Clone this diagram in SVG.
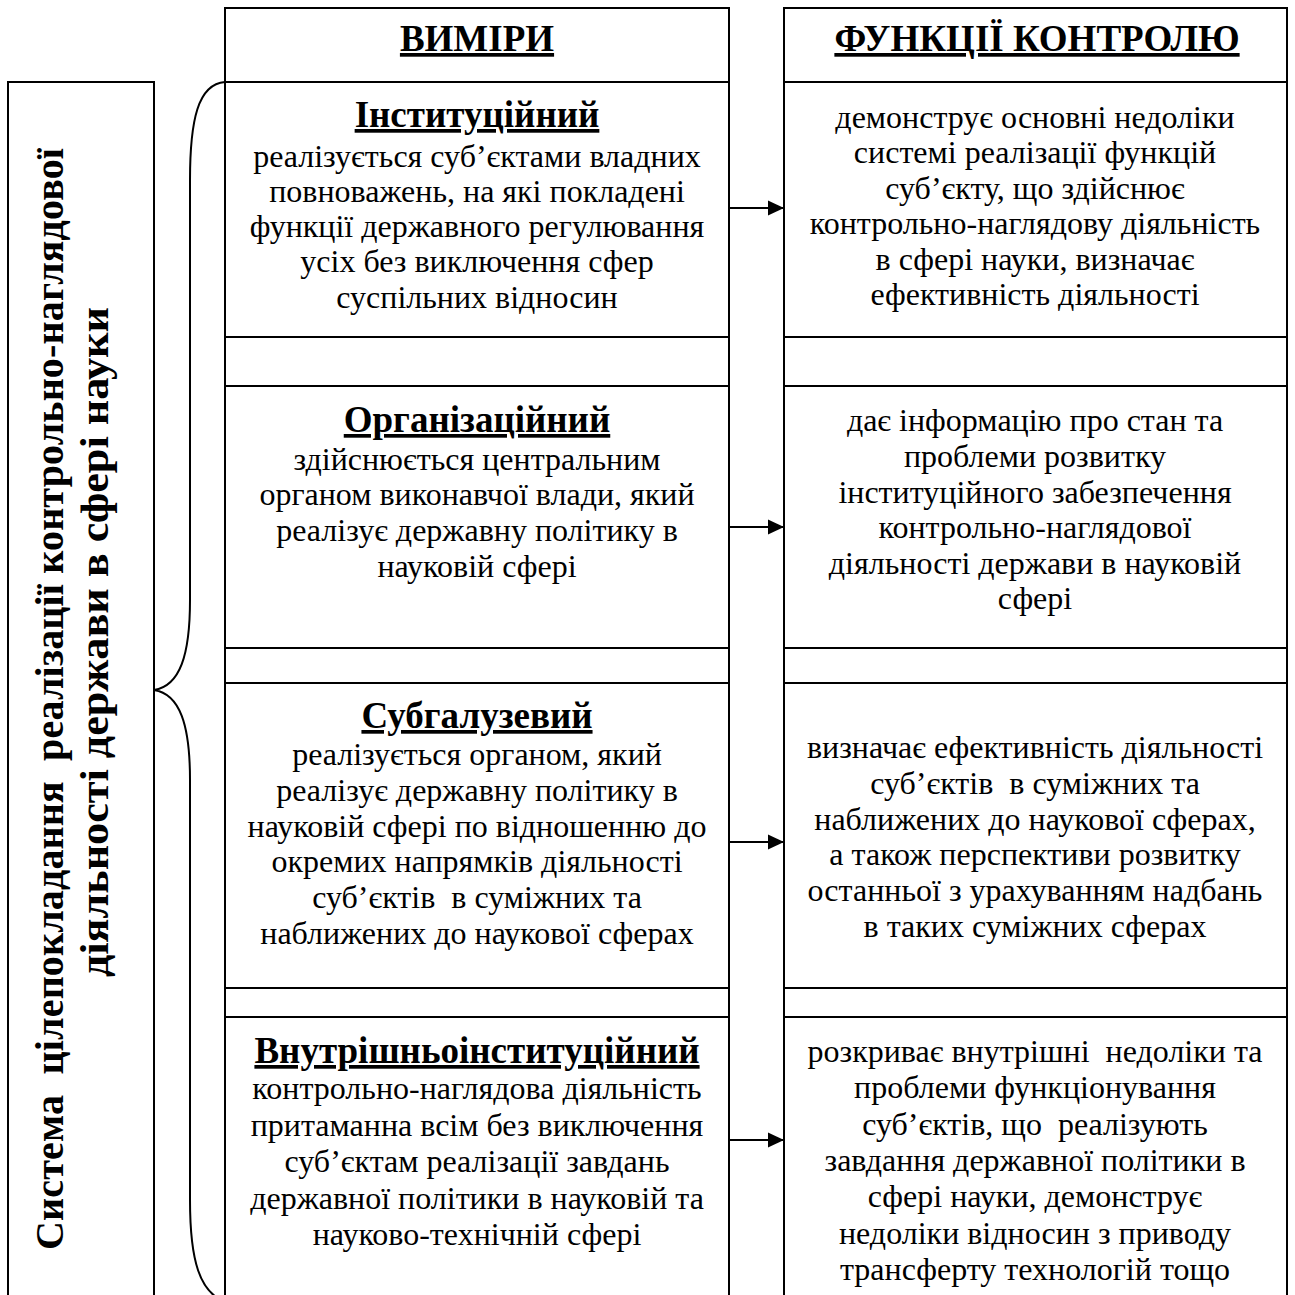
<svg xmlns="http://www.w3.org/2000/svg" width="1295" height="1295" viewBox="0 0 1295 1295">
<style>
.ln{stroke:#000;stroke-width:2;fill:none}
text{font-family:"Liberation Serif","Times New Roman",serif;fill:#000;white-space:pre}
.t{font-size:32px;text-anchor:middle}
.h{font-size:37px;font-weight:bold;text-anchor:middle;text-decoration:underline}
.v{font-size:40px;font-weight:bold;text-anchor:start}
</style>
<defs>
<marker id="ah" markerWidth="16" markerHeight="16" refX="16" refY="8" orient="auto" markerUnits="userSpaceOnUse">
<path d="M0,0.5 L16,8 L0,15.5 Z" fill="#000"/>
</marker>
</defs>
<rect width="1295" height="1295" fill="#fff"/>

<g id="left-box">
<path class="ln" d="M8,1300 L8,82 L154,82 L154,1300"/>
<text class="v" transform="translate(63,1250) rotate(-90)" textLength="1102" lengthAdjust="spacing">Система  цілепокладання  реалізації контрольно-наглядової</text>
<text class="v" transform="translate(108,977) rotate(-90)" textLength="670" lengthAdjust="spacingAndGlyphs">діяльності держави в сфері науки</text>
</g>

<g id="brace">
<path class="ln" d="M225,82 C198,84 190,120 190,180 L190,600 C190,655 180,686 154,690 C180,694 190,725 190,780 L190,1200 C190,1262 200,1292 225,1302"/>
</g>

<g id="col-dimensions">
<path class="ln" d="M225,1300 L225,8 L729,8 L729,1300 M225,82 L729,82 M225,337 L729,337 M225,386 L729,386 M225,648 L729,648 M225,683 L729,683 M225,988 L729,988 M225,1017 L729,1017"/>
</g>
<g id="col-functions">
<path class="ln" d="M784,1300 L784,8 L1287,8 L1287,1300 M784,82 L1287,82 M784,337 L1287,337 M784,386 L1287,386 M784,648 L1287,648 M784,683 L1287,683 M784,988 L1287,988 M784,1017 L1287,1017"/>
</g>

<g id="header-dimensions">
<text class="h" x="477" y="51">ВИМІРИ</text>
</g>
<g id="header-functions">
<text class="h" x="1037" y="51">ФУНКЦІЇ КОНТРОЛЮ</text>
</g>

<g id="dim-institutional">
<text class="h" x="477" y="127">Інституційний</text>
<text class="t" x="477" y="167">реалізується суб’єктами владних</text>
<text class="t" x="477" y="202">повноважень, на які покладені</text>
<text class="t" x="477" y="237">функції державного регулювання</text>
<text class="t" x="477" y="272">усіх без виключення сфер</text>
<text class="t" x="477" y="308">суспільних відносин</text>
</g>

<g id="dim-organizational">
<text class="h" x="477" y="432">Організаційний</text>
<text class="t" x="477" y="470">здійснюється центральним</text>
<text class="t" x="477" y="505">органом виконавчої влади, який</text>
<text class="t" x="477" y="541">реалізує державну політику в</text>
<text class="t" x="477" y="577">науковій сфері</text>
</g>

<g id="dim-subsectoral">
<text class="h" x="477" y="728">Субгалузевий</text>
<text class="t" x="477" y="765">реалізується органом, який</text>
<text class="t" x="477" y="801">реалізує державну політику в</text>
<text class="t" x="477" y="837">науковій сфері по відношенню до</text>
<text class="t" x="477" y="872">окремих напрямків діяльності</text>
<text class="t" x="477" y="908">суб’єктів  в суміжних та</text>
<text class="t" x="477" y="944">наближених до наукової сферах</text>
</g>

<g id="dim-intrainstitutional">
<text class="h" x="477" y="1063">Внутрішньоінституційний</text>
<text class="t" x="477" y="1099">контрольно-наглядова діяльність</text>
<text class="t" x="477" y="1136">притаманна всім без виключення</text>
<text class="t" x="477" y="1172">суб’єктам реалізації завдань</text>
<text class="t" x="477" y="1209">державної політики в науковій та</text>
<text class="t" x="477" y="1245">науково-технічній сфері</text>
</g>

<g id="fn-1">
<text class="t" x="1035" y="128">демонструє основні недоліки</text>
<text class="t" x="1035" y="163">системі реалізації функцій</text>
<text class="t" x="1035" y="199">суб’єкту, що здійснює</text>
<text class="t" x="1035" y="234">контрольно-наглядову діяльність</text>
<text class="t" x="1035" y="270">в сфері науки, визначає</text>
<text class="t" x="1035" y="305">ефективність діяльності</text>
</g>

<g id="fn-2">
<text class="t" x="1035" y="431">дає інформацію про стан та</text>
<text class="t" x="1035" y="467">проблеми розвитку</text>
<text class="t" x="1035" y="503">інституційного забезпечення</text>
<text class="t" x="1035" y="538">контрольно-наглядової</text>
<text class="t" x="1035" y="574">діяльності держави в науковій</text>
<text class="t" x="1035" y="609">сфері</text>
</g>

<g id="fn-3">
<text class="t" x="1035" y="758">визначає ефективність діяльності</text>
<text class="t" x="1035" y="794">суб’єктів  в суміжних та</text>
<text class="t" x="1035" y="830">наближених до наукової сферах,</text>
<text class="t" x="1035" y="865">а також перспективи розвитку</text>
<text class="t" x="1035" y="901">останньої з урахуванням надбань</text>
<text class="t" x="1035" y="937">в таких суміжних сферах</text>
</g>

<g id="fn-4">
<text class="t" x="1035" y="1062">розкриває внутрішні  недоліки та</text>
<text class="t" x="1035" y="1098">проблеми функціонування</text>
<text class="t" x="1035" y="1135">суб’єктів, що  реалізують</text>
<text class="t" x="1035" y="1171">завдання державної політики в</text>
<text class="t" x="1035" y="1207">сфері науки, демонструє</text>
<text class="t" x="1035" y="1244">недоліки відносин з приводу</text>
<text class="t" x="1035" y="1280">трансферту технологій тощо</text>
</g>

<g id="connectors">
<line class="ln" x1="729" y1="208" x2="784" y2="208" marker-end="url(#ah)"/>
<line class="ln" x1="729" y1="527" x2="784" y2="527" marker-end="url(#ah)"/>
<line class="ln" x1="729" y1="842" x2="784" y2="842" marker-end="url(#ah)"/>
<line class="ln" x1="729" y1="1140" x2="784" y2="1140" marker-end="url(#ah)"/>
</g>
</svg>
